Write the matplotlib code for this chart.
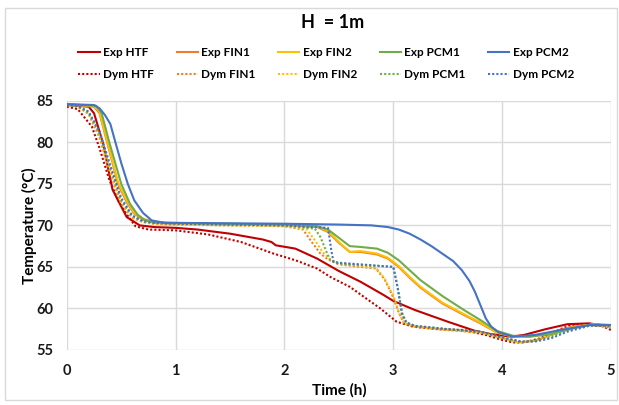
import matplotlib
matplotlib.use("Agg")
from matplotlib import pyplot as plt
from matplotlib.patches import Rectangle

plt.rcParams['font.family'] = ['Lato', 'DejaVu Sans']

# series data: time (h), temperature (C)
t_exp_htf = [0, 0.2, 0.25, 0.33, 0.42, 0.55, 0.67, 0.8, 1.0, 1.2, 1.5, 1.8, 1.88, 1.92, 2.1, 2.3, 2.5, 2.7, 2.9, 3.0, 3.2, 3.5, 3.75, 3.9, 4.08, 4.2, 4.4, 4.6, 4.8, 5.0]
T_exp_htf = [84.5, 84.3, 83.5, 80.0, 74.3, 71.0, 70.0, 69.8, 69.7, 69.5, 69.0, 68.3, 68.0, 67.6, 67.2, 66.0, 64.5, 63.2, 61.7, 60.9, 59.8, 58.4, 57.3, 56.9, 56.6, 56.8, 57.5, 58.1, 58.2, 57.8]

t_exp_fin1 = [0, 0.25, 0.3, 0.37, 0.47, 0.55, 0.62, 0.7, 0.8, 1.0, 2.0, 2.3, 2.4, 2.5, 2.6, 2.7, 2.85, 2.95, 3.05, 3.15, 3.25, 3.45, 3.65, 3.8, 3.95, 4.1, 4.25, 4.45, 4.65, 4.85, 5.0]
T_exp_fin1 = [84.5, 84.3, 83.5, 80.0, 75.0, 72.8, 71.4, 70.7, 70.3, 70.2, 70.0, 69.8, 69.2, 67.9, 66.8, 66.8, 66.5, 66.0, 65.0, 63.7, 62.5, 60.6, 59.2, 58.2, 57.1, 56.6, 56.6, 57.1, 57.8, 58.1, 57.8]

t_exp_fin2 = [0, 0.25, 0.3, 0.37, 0.47, 0.55, 0.62, 0.7, 0.8, 1.0, 2.0, 2.3, 2.4, 2.5, 2.6, 2.7, 2.85, 2.95, 3.05, 3.15, 3.25, 3.45, 3.65, 3.8, 3.95, 4.1, 4.25, 4.45, 4.65, 4.85, 5.0]
T_exp_fin2 = [84.6, 84.4, 83.7, 80.2, 75.2, 73.0, 71.5, 70.8, 70.4, 70.2, 70.0, 69.9, 69.3, 68.0, 66.8, 66.9, 66.6, 66.1, 65.1, 63.8, 62.6, 60.7, 59.3, 58.3, 57.1, 56.6, 56.6, 57.0, 57.7, 58.1, 57.9]

t_exp_pcm1 = [0, 0.27, 0.32, 0.39, 0.5, 0.58, 0.65, 0.71, 0.8, 1.0, 2.0, 2.3, 2.4, 2.5, 2.6, 2.7, 2.85, 2.95, 3.05, 3.15, 3.25, 3.45, 3.65, 3.8, 3.95, 4.1, 4.25, 4.45, 4.65, 4.85, 5.0]
T_exp_pcm1 = [84.6, 84.4, 83.5, 80.0, 75.0, 72.6, 71.3, 70.7, 70.4, 70.3, 70.1, 69.9, 69.5, 68.5, 67.5, 67.4, 67.2, 66.7, 65.8, 64.6, 63.4, 61.5, 59.8, 58.6, 57.3, 56.7, 56.6, 56.9, 57.6, 58.1, 58.0]

t_exp_pcm2 = [0, 0.25, 0.3, 0.35, 0.4, 0.44, 0.5, 0.56, 0.62, 0.7, 0.78, 0.9, 1.0, 2.0, 2.5, 2.8, 2.95, 3.05, 3.15, 3.25, 3.35, 3.45, 3.55, 3.63, 3.7, 3.75, 3.8, 3.85, 3.9, 3.97, 4.1, 4.3, 4.5, 4.8, 5.0]
T_exp_pcm2 = [84.6, 84.5, 84.1, 83.3, 82.2, 80.3, 77.5, 75.0, 73.0, 71.5, 70.6, 70.3, 70.3, 70.2, 70.1, 70.0, 69.8, 69.5, 69.0, 68.3, 67.5, 66.6, 65.7, 64.6, 63.3, 62.0, 60.4, 58.8, 57.8, 57.1, 56.6, 56.8, 57.3, 58.0, 58.0]

t_dym_htf = [0, 0.1, 0.23, 0.3, 0.39, 0.47, 0.54, 0.63, 0.75, 1.0, 1.3, 1.6, 1.9, 2.1, 2.3, 2.42, 2.6, 2.75, 2.88, 3.03, 3.18, 3.4, 3.64, 3.85, 4.0, 4.1, 4.2, 4.35, 4.5, 4.63, 4.8, 4.9, 5.0]
T_dym_htf = [84.3, 84.0, 81.9, 79.3, 75.5, 73.0, 71.5, 69.9, 69.5, 69.4, 68.9, 68.0, 66.6, 65.8, 64.8, 63.8, 62.6, 61.2, 60.0, 58.4, 57.8, 57.5, 57.4, 56.8, 56.2, 55.9, 55.9, 56.4, 57.3, 58.0, 58.1, 58.0, 57.4]

t_dym_fin1 = [0, 0.1, 0.2, 0.3, 0.4, 0.5, 0.6, 0.7, 0.8, 1.0, 2.0, 2.17, 2.25, 2.33, 2.4, 2.5, 2.84, 2.92, 3.0, 3.05, 3.1, 3.2, 3.5, 3.8, 4.0, 4.15, 4.3, 4.45, 4.6, 4.8, 5.0]
T_dym_fin1 = [84.5, 84.3, 83.4, 80.6, 76.2, 72.6, 70.9, 70.4, 70.2, 70.1, 69.9, 69.5, 68.0, 66.6, 65.9, 65.3, 64.8, 63.5, 61.3, 59.5, 58.2, 57.8, 57.4, 57.1, 56.4, 55.9, 56.1, 56.8, 57.6, 58.0, 57.7]

t_dym_fin2 = [0, 0.1, 0.2, 0.3, 0.4, 0.5, 0.6, 0.7, 0.8, 1.0, 2.0, 2.2, 2.28, 2.35, 2.42, 2.5, 2.84, 2.92, 3.0, 3.05, 3.1, 3.2, 3.5, 3.8, 4.0, 4.15, 4.3, 4.45, 4.6, 4.8, 5.0]
T_dym_fin2 = [84.5, 84.3, 83.5, 80.8, 76.5, 72.8, 71.0, 70.4, 70.2, 70.1, 69.9, 69.6, 68.2, 66.8, 65.9, 65.4, 64.9, 63.6, 61.5, 59.6, 58.2, 57.8, 57.4, 57.1, 56.4, 55.9, 56.1, 56.8, 57.6, 58.0, 57.8]

t_dym_pcm1 = [0, 0.1, 0.2, 0.3, 0.4, 0.5, 0.6, 0.7, 0.8, 1.0, 2.0, 2.28, 2.33, 2.38, 2.42, 2.5, 3.0, 3.04, 3.08, 3.12, 3.2, 3.5, 3.8, 4.0, 4.17, 4.3, 4.45, 4.6, 4.8, 5.0]
T_dym_pcm1 = [84.5, 84.3, 83.6, 81.0, 76.8, 73.0, 71.1, 70.5, 70.3, 70.2, 70.0, 69.6, 68.6, 67.0, 65.8, 65.4, 65.0, 62.5, 59.5, 58.3, 57.9, 57.5, 57.2, 56.5, 56.0, 56.1, 56.6, 57.4, 58.0, 57.9]

t_dym_pcm2 = [0, 0.1, 0.2, 0.3, 0.4, 0.5, 0.6, 0.7, 0.8, 1.0, 2.0, 2.4, 2.43, 2.45, 2.5, 3.0, 3.04, 3.08, 3.12, 3.2, 3.5, 3.8, 4.0, 4.18, 4.3, 4.45, 4.6, 4.8, 5.0]
T_dym_pcm2 = [84.5, 84.4, 83.7, 81.3, 77.2, 73.3, 71.2, 70.5, 70.3, 70.2, 70.0, 69.7, 67.0, 65.6, 65.5, 65.0, 62.5, 59.3, 58.3, 57.9, 57.5, 57.2, 56.5, 56.0, 56.0, 56.4, 57.2, 57.9, 57.9]

red = '#C00000'
orange = '#ED7D31'
yellow = '#FFC000'
green = '#70AD47'
blue = '#4472C4'

fig = plt.figure(figsize=(6.19, 4.05), dpi=100)
ax = fig.add_axes([0.108, 0.136, 0.879, 0.615])

# solid = experiment, dotted = Dymola
dot = (0, (1, 1))
ax.plot(t_exp_htf, T_exp_htf, color=red, lw=1.5, label='Exp HTF')
ax.plot(t_dym_htf, T_dym_htf, color=red, lw=1.5, ls=dot, label='Dym HTF')
ax.plot(t_exp_fin1, T_exp_fin1, color=orange, lw=1.5, label='Exp FIN1')
ax.plot(t_dym_fin1, T_dym_fin1, color=orange, lw=1.5, ls=dot, label='Dym FIN1')
ax.plot(t_exp_fin2, T_exp_fin2, color=yellow, lw=1.5, label='Exp FIN2')
ax.plot(t_dym_fin2, T_dym_fin2, color=yellow, lw=1.5, ls=dot, label='Dym FIN2')
ax.plot(t_exp_pcm1, T_exp_pcm1, color=green, lw=1.5, label='Exp PCM1')
ax.plot(t_dym_pcm1, T_dym_pcm1, color=green, lw=1.5, ls=dot, label='Dym PCM1')
ax.plot(t_exp_pcm2, T_exp_pcm2, color=blue, lw=1.5, label='Exp PCM2')
ax.plot(t_dym_pcm2, T_dym_pcm2, color=blue, lw=1.5, ls=dot, label='Dym PCM2')

ax.set_xlim(0, 5)
ax.set_ylim(55, 85)
ax.set_xticks([0, 1, 2, 3, 4, 5])
ax.set_yticks([55, 60, 65, 70, 75, 80, 85])
ax.grid(True, color='#D9D9D9', lw=1)
ax.set_axisbelow(True)
for s in ax.spines.values():
    s.set_visible(False)
ax.tick_params(length=0, labelsize=10.5, pad=10)
for lab in ax.get_xticklabels() + ax.get_yticklabels():
    lab.set_fontweight('bold')
    lab.set_color('#1a1a1a')

ax.set_xlabel('Time (h)', fontsize=11, fontweight='bold', labelpad=4)
ax.set_ylabel('Temperature (°C)', fontsize=11, fontweight='bold', labelpad=-1)

fig.text(0.538, 0.945, 'H  = 1m', ha='center', va='center', fontsize=13, fontweight='bold')

leg = ax.legend(loc='center', bbox_to_anchor=(0.477, 1.15), ncol=5, frameon=False,
                prop={'size': 8.5, 'weight': 'bold'}, handlelength=1.8, columnspacing=1.9,
                handletextpad=0.3, labelspacing=0.95)

fig.patches.append(Rectangle((0.008, 0.012), 0.988, 0.968, transform=fig.transFigure,
                             fill=False, edgecolor='#D9D9D9', lw=1))

fig.savefig('out.png', dpi=100)
